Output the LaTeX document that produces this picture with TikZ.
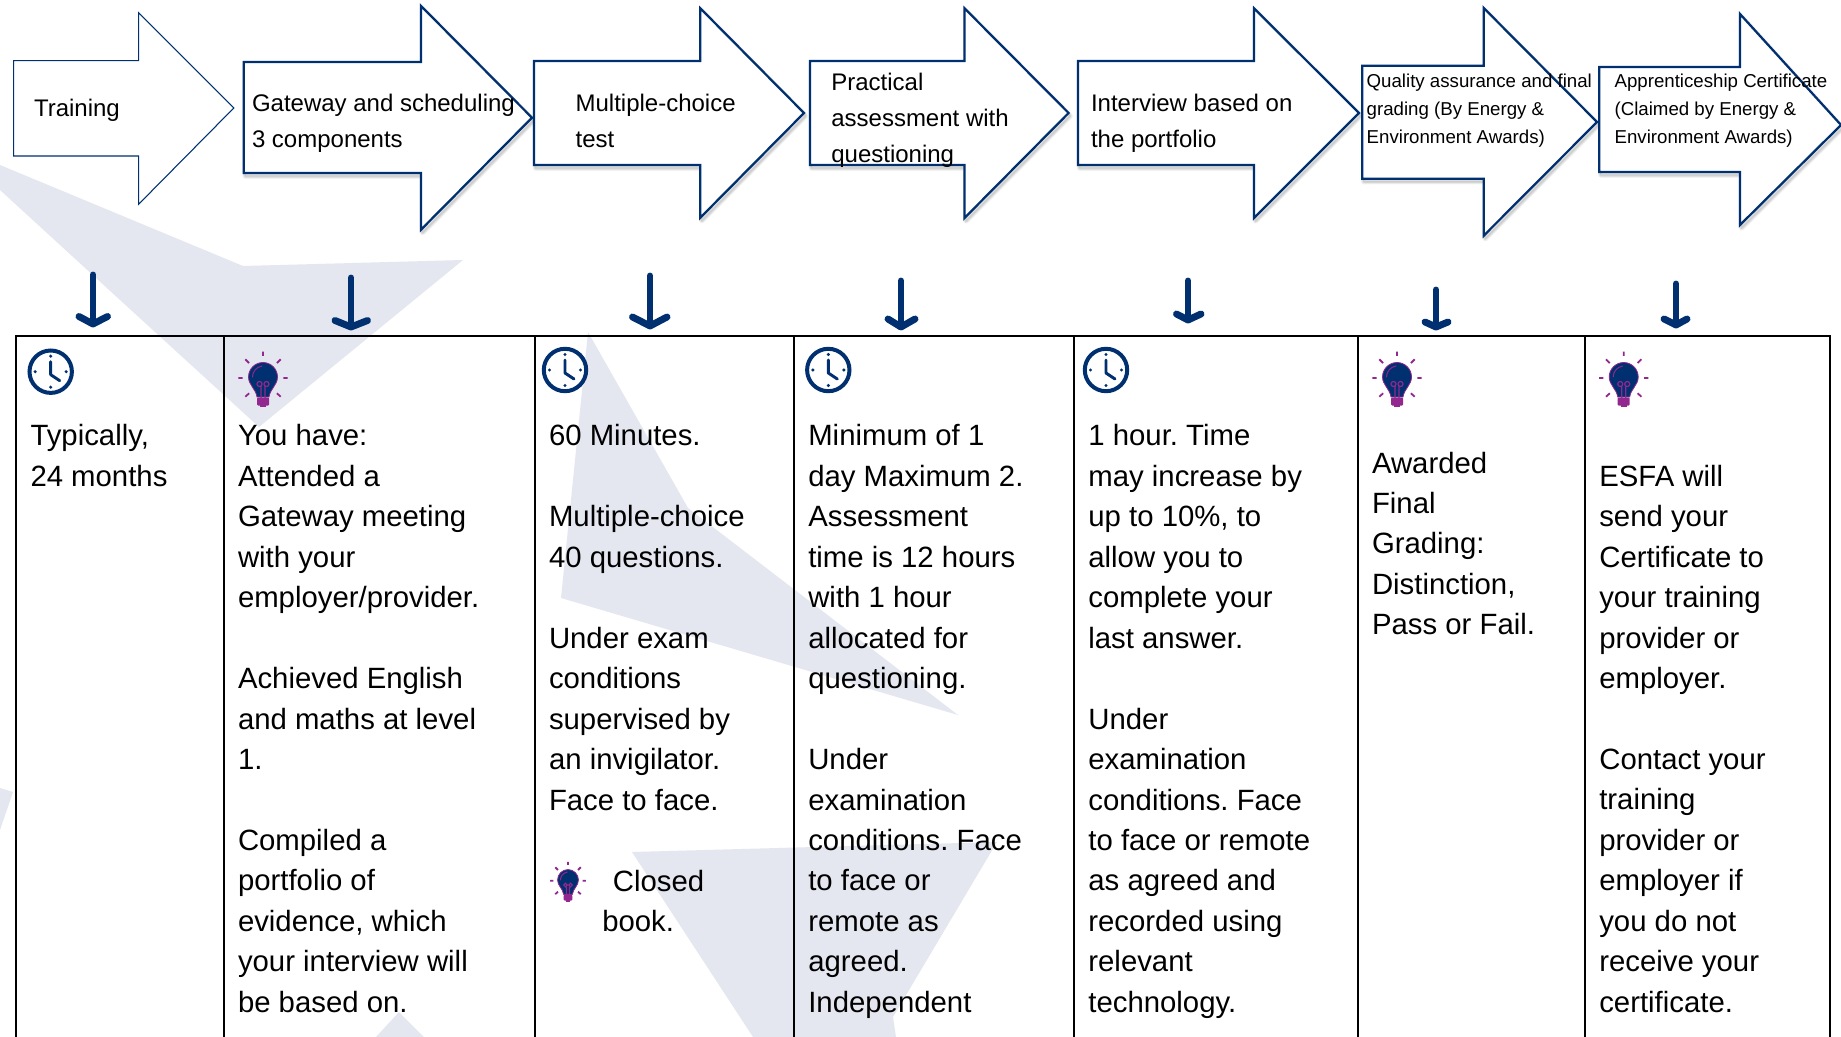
\documentclass[tikz,border=0pt]{standalone}
\usepackage{fontspec}
\setmainfont{Liberation Sans}
\frenchspacing
\definecolor{navy}{HTML}{003070}
\definecolor{wm}{HTML}{E4E7F0}
\definecolor{bulbp}{HTML}{92278F}
\tikzset{
  px/.style={x=0.75pt,y=-0.75pt},
  block/.style={draw=navy,fill=white,line width=1.7pt,line join=miter},
  blockthin/.style={draw=navy,fill=white,line width=0.8pt,line join=miter},
  soft/.style={draw=black,line width=#1,opacity=0.05,line join=round},
  celltext/.style={anchor=north west,inner sep=0pt,outer sep=0pt,align=left,text=black,font=\fontsize{22pt}{30.35pt}\selectfont},
  blocktext/.style={anchor=north west,inner sep=0pt,outer sep=0pt,align=left,text=black,font=\fontsize{18pt}{27pt}\selectfont},
  smalltext/.style={anchor=north west,inner sep=0pt,outer sep=0pt,align=left,text=black,font=\fontsize{14pt}{21pt}\selectfont},
  rule/.style={draw=black,line width=1.8pt},
  downshaft/.style={draw=navy,line width=5.2pt,line cap=round,line join=round},
  clockpic/.pic={
    \draw[navy,line width=3pt] (0,0) circle (15.9pt);
    \fill[navy] (0,-15.5) circle (1.3pt) (15.5,0) circle (1.3pt) (0,15.5) circle (1.3pt) (-15.5,0) circle (1.3pt);
    \draw[navy,line width=2.2pt,line cap=round,line join=round] (0,-10) -- (0,3) -- (9,9);
  },
  bulbpic/.pic={
    \draw[bulbp,line width=1.35pt,line cap=butt]
      (0,-26.3) -- (0,-22) (-24.7,0) -- (-20.3,0) (24.7,0) -- (20.3,0)
      (-17.7,-18.7) -- (-13.9,-14.9) (17.7,-18.7) -- (13.9,-14.9)
      (-17.7,18.7) -- (-13.9,15.3) (17.7,18.7) -- (13.9,15.3);
    \path[fill=navy,draw=bulbp,line width=0.6pt]
      (-6,19) .. controls (-7,11) and (-14.5,7) .. (-14.5,-1)
      .. controls (-14.5,-9) and (-8,-15.5) .. (0,-15.5)
      .. controls (8,-15.5) and (14.5,-9) .. (14.5,-1)
      .. controls (14.5,7) and (7,11) .. (6,19) -- cycle;
    \draw[bulbp,line width=0.75pt,line cap=round] (-10.5,-1) .. controls (-10.5,-6) and (-7,-11) .. (-1,-12);
    \draw[bulbp,line width=0.9pt] (-3.5,6) circle (1.9pt) (3.5,6) circle (1.9pt)
      (-2,8.5) -- (-2,20) (2,8.5) -- (2,20);
    \fill[bulbp,rounded corners=0.75pt] (-6,19.5) rectangle (6,27.5);
    \fill[bulbp] (-3,27) rectangle (3,29.2);
  },
}
\newcommand{\txt}[6]{\node[#4] (#1) at (#2,{#3-#5}) {\strut #6};}
\newcommand{\darrow}[7]{%
  \coordinate (#1s) at (#2,#3);
  \coordinate (#1e) at (#2,#4);
  \coordinate (#1l) at (#5,#6);
  \coordinate (#1r) at (#7,#6);
  \draw[downshaft] (#1s) -- (#1e);
  \draw[downshaft] (#1l) -- (#1e) -- (#1r);
}
\newcommand{\barrow}[9]{% name left bodytop bodybottom neck headtop headbottom tipx tipy
  \foreach \w in {4.2pt,3pt,1.9pt,0.9pt}{\draw[soft=\w] ([shift={(1.5,3)}]#2,#3) -- ([shift={(1.5,3)}]#5,#3) -- ([shift={(1.5,3)}]#5,#6) -- ([shift={(1.5,3)}]#8,#9) -- ([shift={(1.5,3)}]#5,#7) -- ([shift={(1.5,3)}]#5,#4) -- ([shift={(1.5,3)}]#2,#4) -- cycle;}
  \path[block] (#2,#3) coordinate (#1a) -- (#5,#3) -- (#5,#6) -- (#8,#9) coordinate (#1tip) -- (#5,#7) -- (#5,#4) -- (#2,#4) -- cycle;
}
\begin{document}
\begin{tikzpicture}[px]
\useasboundingbox (0,0) rectangle (1841,1037);
\fill[white] (0,0) rectangle (1841,1037);
% watermark
\fill[wm] (0,165) -- (243,266) -- (463,260) -- (259,427) -- (120,300) -- (0,190) -- cycle;
\fill[wm] (588,332) -- (688,508) -- (958,715) -- (561,598) -- cycle;
\fill[wm] (632,852) -- (997,842) -- (893,1017) -- (896,1037) -- (753,1037) -- cycle;
\fill[wm] (399,1012) -- (424,1037) -- (376,1037) -- cycle;
\fill[wm] (0,788) -- (13,792) -- (0,830) -- cycle;
% block arrows
\path[blockthin] (13.6,60.7) -- (138.6,60.7) -- (138.6,12.7) -- (233.8,108) -- (138.6,204.3) -- (138.6,156) -- (13.6,156) -- cycle;
\barrow{b2}{243.7}{62}{173}{421}{6}{229.7}{532}{117.7}
\barrow{b3}{534}{61}{165}{700.3}{8.3}{217.7}{804}{113}
\barrow{b4}{810}{61}{165}{964.5}{8.3}{218}{1068.6}{113}
\barrow{b5}{1078}{61}{165}{1254}{8.3}{218}{1359}{113}
\barrow{b6}{1362.3}{65.7}{178.7}{1483.7}{8}{235.7}{1597}{122}
\barrow{b7}{1599.3}{67}{172}{1740}{14}{225}{1841}{125}
% block arrow labels
\txt{t1}{34}{117}{blocktext}{25.2}{Training}
\txt{t2}{252}{111.7}{blocktext}{25.2}{Gateway and scheduling\\3 components}
\txt{t3}{575.6}{111.7}{blocktext}{25.2}{Multiple-choice\\test}
\txt{t4}{831.3}{91}{blocktext}{25.2}{Practical\\assessment with\\questioning}
\txt{t5}{1091}{112}{blocktext}{25.2}{Interview based on\\the portfolio}
\txt{t6}{1366.7}{87.3}{smalltext}{19.6}{Quality assurance and final\\grading (By Energy \&\\Environment Awards)}
\txt{t7}{1614.6}{87.3}{smalltext}{19.6}{Apprenticeship Certificate\\(Claimed by Energy \&\\Environment Awards)}
% down arrows
\darrow{a}{93}{275}{324}{79}{316.5}{107.5}
\darrow{c}{351}{278}{327}{335}{320.5}{367.5}
\darrow{d}{650}{276}{326}{632.5}{317}{667}
\darrow{e}{901}{281}{327}{888}{319}{915}
\darrow{f}{1188}{281}{320}{1176.5}{314}{1201}
\darrow{g}{1436}{290}{327}{1425}{322}{1448}
\darrow{h}{1676}{284}{325}{1664}{319}{1687}
% table
\coordinate (tl) at (16,336); \coordinate (tr) at (1830,336);
\coordinate (bl) at (16,1037); \coordinate (br) at (1830,1037);
\draw[rule] (bl) -- (tl) -- (tr) -- (br);
\foreach \x in {224,535,794,1074,1358,1585}{\draw[rule] (\x,336) -- (\x,1037);}
% icons
\pic at (50.7,371.7) {clockpic};
\pic at (565,370) {clockpic};
\pic at (828.3,370) {clockpic};
\pic at (1106,370) {clockpic};
\pic at (263,378) {bulbpic};
\pic at (1397,378) {bulbpic};
\pic at (1623.7,378) {bulbpic};
\pic[scale=0.72,transform shape] at (568,880.7) {bulbpic};
% table text
\txt{c1}{30.5}{445.8}{celltext}{28.33}{Typically,\\24 months}
\txt{c2}{238}{445.8}{celltext}{28.33}{You have:\\Attended a\\Gateway meeting\\with your\\employer/provider.\\~\\Achieved English\\and maths at level\\1.\\~\\Compiled a\\portfolio of\\evidence, which\\your interview will\\be based on.}
\txt{c3}{549}{445.8}{celltext}{28.33}{60 Minutes.\\~\\Multiple-choice\\40 questions.\\~\\Under exam\\conditions\\supervised by\\an invigilator.\\Face to face.}
\txt{c3b}{602.3}{891}{celltext}{28.33}{\hspace{8pt}Closed\\book.}
\txt{c4}{808.3}{445.8}{celltext}{28.33}{Minimum of 1\\day Maximum 2.\\Assessment\\time is 12 hours\\with 1 hour\\allocated for\\questioning.\\~\\Under\\examination\\conditions. Face\\to face or\\remote as\\agreed.\\Independent}
\txt{c5}{1088.4}{445.8}{celltext}{28.33}{1 hour. Time\\may increase by\\up to 10\%, to\\allow you to\\complete your\\last answer.\\~\\Under\\examination\\conditions. Face\\to face or remote\\as agreed and\\recorded using\\relevant\\technology.}
\txt{c6}{1372}{473}{celltext}{28.33}{Awarded\\Final\\Grading:\\Distinction,\\Pass or Fail.}
\txt{c7}{1599.3}{486.2}{celltext}{28.33}{ESFA will\\send your\\Certificate to\\your training\\provider or\\employer.\\~\\Contact your\\training\\provider or\\employer if\\you do not\\receive your\\certificate.}
\end{tikzpicture}
\end{document}
